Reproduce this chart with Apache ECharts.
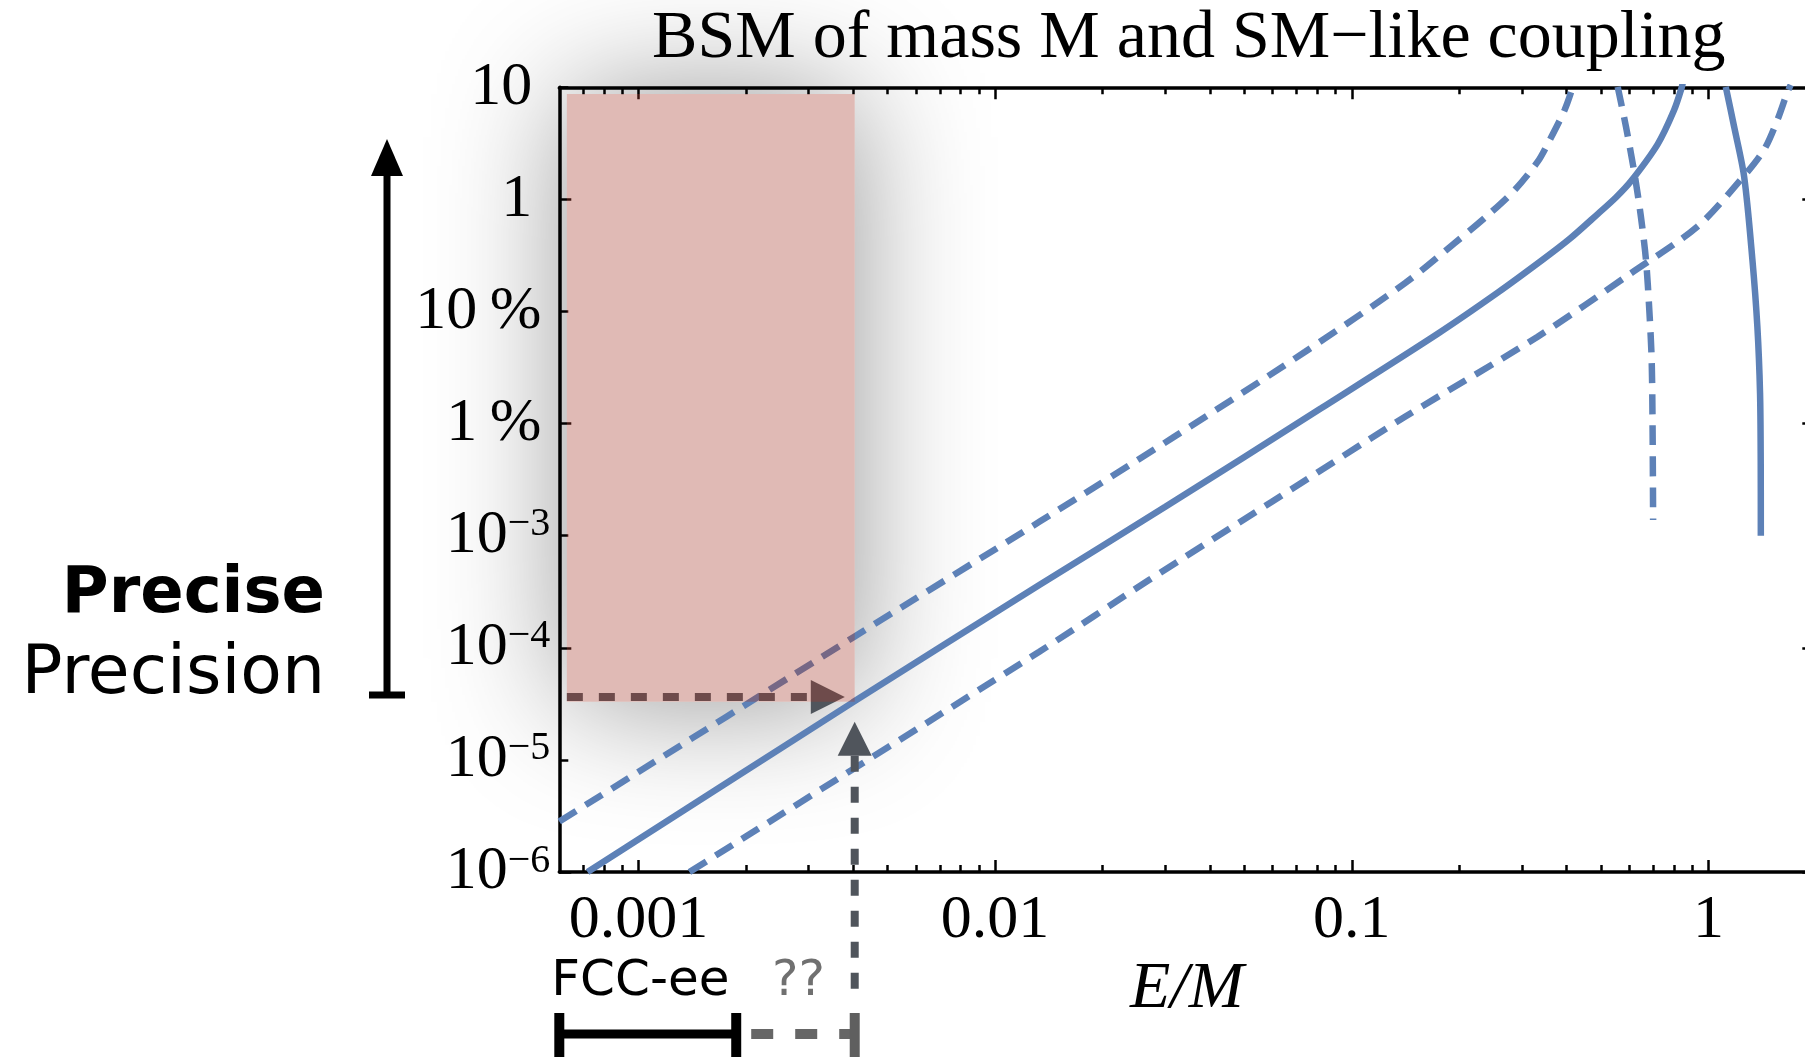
<!DOCTYPE html>
<html>
<head>
<meta charset="utf-8">
<script src="https://cdn.jsdelivr.net/npm/echarts@6.0.0/dist/echarts.min.js"></script>
<style>
html,body{margin:0;padding:0;background:#ffffff;}
#chart{width:1805px;height:1057px;}
</style>
</head>
<body>
<div id="chart"></div>
<script>
// ---------------- data ----------------
const xMajorTicks = [0.001, 0.01, 0.1, 1];
const xMajorLabels = ['0.001', '0.01', '0.1', '1'];
const xMinorTicks = [0.0007, 0.0008, 0.0009,
  0.002, 0.003, 0.004, 0.005, 0.006, 0.007, 0.008, 0.009,
  0.02, 0.03, 0.04, 0.05, 0.06, 0.07, 0.08, 0.09,
  0.2, 0.3, 0.4, 0.5, 0.6, 0.7, 0.8, 0.9];
const yTicks = [1e-6, 1e-5, 1e-4, 1e-3, 1e-2, 1e-1, 1, 10];
const yMajorTicks = [1e-6, 1e-4, 1e-2, 1];
const yMinorTicks = [1e-5, 1e-3, 1e-1, 10];
const yTickLabels = ['10^\u22126', '10^\u22125', '10^\u22124', '10^\u22123', '1\u2009%', '10\u2009%', '1', '10'];

// central curve (solid) and two companions (dashed)
const solidMain = [
  [7.2e-4, 1.0e-6], [3.99e-3, 3.26e-5], [1.33e-2, 3.63e-4], [3.0e-2, 1.81e-3],
  [8.2e-2, 1.37e-2], [0.175, 0.064], [0.257, 0.148], [0.343, 0.29], [0.41, 0.45],
  [0.489, 0.74], [0.55, 1.04], [0.606, 1.45], [0.72, 3.1], [0.80, 6.2], [0.84, 9.8], [0.852, 12]
];
const upperDashed = [
  [6.0e-4, 2.82e-6], [4.03e-3, 1.256e-4], [1.33e-2, 1.33e-3], [3.13e-2, 7.39e-3],
  [7.40e-2, 4.38e-2], [0.141, 0.179], [0.194, 0.406], [0.241, 0.726],
  [0.286, 1.21], [0.332, 2.17], [0.355, 3.17], [0.395, 6.27], [0.4165, 10.1], [0.42, 11.5]
];
const lowerDashed = [
  [1.39e-3, 1.0e-6], [1.33e-2, 9.23e-5], [2.70e-2, 4.02e-4], [5.97e-2, 2.01e-3],
  [0.141, 1.15e-2], [0.332, 5.96e-2], [0.606, 0.219], [0.93, 0.571],
  [1.23, 1.49], [1.43, 2.76], [1.56, 5.1], [1.66, 8.84], [1.70, 10.5]
];
// resonance-like near-vertical curves
const solidVertical = [
  [1.118, 10.1], [1.180, 4.45], [1.259, 1.59], [1.328, 0.288],
  [1.371, 0.0732], [1.395, 0.0186], [1.401, 0.0047], [1.402, 0.001]
];
const dashedVertical = [
  [0.5565, 10.1], [0.587, 4.45], [0.620, 1.71], [0.6465, 0.70], [0.668, 0.288],
  [0.6825, 0.103], [0.693, 0.0369], [0.697, 0.0094], [0.6995, 0.00138]
];

// annotation values
const targetRegionX = [6.3e-4, 4.04e-3];
const targetRegionY = [3.3e-5, 8.7];
const precisionArrow = [6.3e-4, 3.64e-5, 3.79e-3, 3.64e-5];   // x0, y0, x1(tip), y1
const reachArrow = [4.04e-3, 2.19e-5];                      // x, tip y
const fccRange = [6.0e-4, 1.88e-3];
const unknownRange = [1.88e-3, 4.04e-3];

// ---------------- layout / style ----------------
const X_MIN = 0.0006, X_MAX = 1.98, Y_MIN = 1e-6, Y_MAX = 10;
const GRID = { left: 559.3, top: 87.3, width: 1255.0, height: 784.7 };
const BLUE = '#5d81b7';
const ARROW = '#50555c';
const SERIF = "'Liberation Serif','Times New Roman',serif";
const SANS = "'DejaVu Sans','Liberation Sans',sans-serif";
const DASH = [20, 11];

const chart = echarts.init(document.getElementById('chart'), null, { renderer: 'canvas' });

function xFmt(v) {
  const i = xMajorTicks.findIndex(t => Math.abs(Math.log10(t) - Math.log10(v)) < 1e-6);
  return i < 0 ? '' : xMajorLabels[i];
}
function yFmt(v) {
  const lv = Math.log10(v);
  const i = yTicks.findIndex(t => Math.abs(Math.log10(t) - lv) < 1e-6);
  if (i < 0) return '';
  const s = yTickLabels[i];
  if (s.indexOf('^') >= 0) { const p = s.split('^'); return '{b|' + p[0] + '}{s|' + p[1] + '}'; }
  if (s.indexOf('%') >= 0) return '{p|' + s + '}';
  return '{n|' + s + '}';
}

const lineAx = { show: true, onZero: false, lineStyle: { color: '#000', width: 3.5 } };
function xAxisDef(pos, ticks, len, showLine, withLabels) {
  return {
    type: 'log', position: pos, min: X_MIN, max: X_MAX, logBase: 10,
    axisLine: showLine ? lineAx : { show: false },
    axisTick: { show: true, inside: true, length: len, customValues: ticks, lineStyle: { color: '#000', width: 2.5 } },
    axisLabel: withLabels ? {
      show: true, customValues: xMajorTicks, formatter: xFmt, margin: 18,
      fontFamily: SERIF, fontSize: 62, color: '#000'
    } : { show: false },
    splitLine: { show: false },
    name: withLabels ? 'E/M' : '',
    nameLocation: 'middle', nameGap: 72,
    nameTextStyle: { fontFamily: SERIF, fontStyle: 'italic', fontSize: 66, color: '#000' }
  };
}
function yAxisDef(pos, ticks, len, showLine, withLabels) {
  return {
    type: 'log', position: pos, min: Y_MIN, max: Y_MAX, logBase: 10,
    axisLine: showLine ? lineAx : { show: false },
    axisTick: { show: true, inside: true, length: len, customValues: ticks, lineStyle: { color: '#000', width: 2.5 } },
    axisLabel: withLabels ? {
      show: true, customValues: yTicks, formatter: yFmt, margin: 9, color: '#000',
      rich: {
        b: { fontFamily: SERIF, fontSize: 62, lineHeight: 62, color: '#000' },
        s: { fontFamily: SERIF, fontSize: 40, lineHeight: 28, verticalAlign: 'top', color: '#000' },
        p: { fontFamily: SERIF, fontSize: 62, lineHeight: 62, padding: [0, 9, 0, 0], color: '#000' },
        n: { fontFamily: SERIF, fontSize: 62, lineHeight: 62, padding: [0, 18, 0, 0], color: '#000' }
      }
    } : { show: false },
    splitLine: { show: false }
  };
}

function lineSeries(name, data, dashed) {
  return {
    type: 'line', name: name, data: data, xAxisIndex: 0, yAxisIndex: 0,
    showSymbol: false, symbol: 'none', smooth: 0.3, clip: true, z: 3, silent: true,
    lineStyle: { color: BLUE, width: 6.5, type: dashed ? DASH : 'solid', cap: 'butt' },
    emphasis: { disabled: true }
  };
}

function rectRender(fill, shadow) {
  return function (params, api) {
    const a = api.coord([api.value(0), api.value(3)]);
    const b = api.coord([api.value(2), api.value(1)]);
    const style = { fill: fill };
    if (shadow) { style.shadowBlur = 130; style.shadowColor = 'rgba(0,0,0,0.42)'; }
    return { type: 'rect', shape: { x: a[0], y: a[1], width: b[0] - a[0], height: b[1] - a[1] }, style: style };
  };
}
const regionData = [[targetRegionX[0], targetRegionY[0], targetRegionX[1], targetRegionY[1]]];

const option = {
  animation: false,
  backgroundColor: '#ffffff',
  grid: { left: GRID.left, top: GRID.top, width: GRID.width, height: GRID.height, containLabel: false, outerBoundsMode: 'none' },
  xAxis: [
    xAxisDef('bottom', xMajorTicks, 12, true, true),
    xAxisDef('bottom', xMinorTicks, 7, false, false),
    xAxisDef('top', xMajorTicks, 12, true, false),
    xAxisDef('top', xMinorTicks, 7, false, false)
  ],
  yAxis: [
    yAxisDef('left', yMajorTicks, 12, true, true),
    yAxisDef('left', yMinorTicks, 9, false, false),
    yAxisDef('right', yMajorTicks, 12, true, false),
    yAxisDef('right', yMinorTicks, 9, false, false)
  ],
  graphic: [
    { type: 'text', x: GRID.left + GRID.width / 2 + 2, y: 39, z: 100,
      style: { text: 'BSM of mass M and SM\u2212like coupling', font: '68px ' + SERIF, fill: '#000', align: 'center', verticalAlign: 'middle' } },
    { type: 'text', x: 325, y: 595, z: 100,
      style: { text: 'Precise', font: 'bold 64px ' + SANS, fill: '#000', align: 'right', verticalAlign: 'middle' } },
    { type: 'text', x: 325, y: 675, z: 100,
      style: { text: 'Precision', font: '68px ' + SANS, fill: '#000', align: 'right', verticalAlign: 'middle' } },
    { type: 'line', z: 100, shape: { x1: 387, y1: 695, x2: 387, y2: 168 }, style: { stroke: '#000', lineWidth: 7 } },
    { type: 'polygon', z: 100, shape: { points: [[387, 139], [371, 176], [403, 176]] }, style: { fill: '#000' } },
    { type: 'line', z: 100, shape: { x1: 369, y1: 695, x2: 405, y2: 695 }, style: { stroke: '#000', lineWidth: 7 } }
  ],
  series: [
    { type: 'custom', name: 'glow', coordinateSystem: 'cartesian2d', z: -1, silent: true, clip: false,
      data: regionData, encode: { x: [0, 2], y: [1, 3] }, renderItem: rectRender('#ffffff', true) },
    lineSeries('upper', upperDashed, true),
    lineSeries('main', solidMain, false),
    lineSeries('lower', lowerDashed, true),
    lineSeries('dashedVertical', dashedVertical, true),
    lineSeries('solidVertical', solidVertical, false),
    { type: 'custom', name: 'arrows', coordinateSystem: 'cartesian2d', z: 4, silent: true, clip: false,
      data: [precisionArrow, [reachArrow[0], reachArrow[1], reachArrow[0], reachArrow[1]]],
      encode: { x: [0, 2], y: [1, 3] },
      renderItem: function (params, api) {
        const head = 34, half = 17;
        const cs = params.coordSys;
        if (params.dataIndex === 0) {
          const s = api.coord([api.value(0), api.value(1)]);
          const t = api.coord([api.value(2), api.value(3)]);
          return { type: 'group', children: [
            { type: 'line', shape: { x1: s[0], y1: t[1], x2: t[0] - head, y2: t[1] }, style: { stroke: ARROW, lineWidth: 8, lineDash: [16, 16] } },
            { type: 'polygon', shape: { points: [[t[0], t[1]], [t[0] - head, t[1] - half], [t[0] - head, t[1] + half]] }, style: { fill: ARROW } }
          ] };
        }
        const t = api.coord([api.value(0), api.value(1)]);
        const bottom = cs.y + cs.height + 128;
        return { type: 'group', children: [
          { type: 'line', shape: { x1: t[0], y1: t[1] + head, x2: t[0], y2: bottom }, style: { stroke: ARROW, lineWidth: 8, lineDash: [16, 15] } },
          { type: 'polygon', shape: { points: [[t[0], t[1]], [t[0] - half, t[1] + head], [t[0] + half, t[1] + head]] }, style: { fill: ARROW } }
        ] };
      } },
    { type: 'custom', name: 'region', coordinateSystem: 'cartesian2d', z: 5, silent: true, clip: false,
      data: regionData, encode: { x: [0, 2], y: [1, 3] }, renderItem: rectRender('rgba(166,58,44,0.35)', false) },
    { type: 'custom', name: 'reach', coordinateSystem: 'cartesian2d', z: 5, silent: true, clip: false,
      data: [[fccRange[0], Y_MIN, fccRange[1], unknownRange[1]]],
      encode: { x: [0, 2], y: [1, 1] },
      renderItem: function (params, api) {
        const cs = params.coordSys;
        const base = cs.y + cs.height;
        const xa = api.coord([api.value(0), Y_MIN])[0];
        const xb = api.coord([api.value(2), Y_MIN])[0];
        const xc = api.coord([api.value(3), Y_MIN])[0];
        const barY = base + 162, capTop = base + 141, capH = 60;
        return { type: 'group', children: [
          { type: 'line', shape: { x1: xa, y1: barY, x2: xb, y2: barY }, style: { stroke: '#000', lineWidth: 9 } },
          { type: 'rect', shape: { x: xa - 5, y: capTop, width: 10, height: capH }, style: { fill: '#000' } },
          { type: 'rect', shape: { x: xb - 5, y: capTop, width: 10, height: capH }, style: { fill: '#000' } },
          { type: 'line', shape: { x1: xb + 15, y1: barY, x2: xc, y2: barY }, style: { stroke: '#666666', lineWidth: 10, lineDash: [22, 22] } },
          { type: 'rect', shape: { x: xc - 5, y: capTop, width: 10, height: capH }, style: { fill: '#5f5f5f' } },
          { type: 'text', x: xa - 8, y: base + 110, style: { text: 'FCC-ee', font: '50px ' + SANS, fill: '#000', align: 'left', verticalAlign: 'middle' } },
          { type: 'text', x: (xb + xc) / 2 + 3, y: base + 110, style: { text: '??', font: '50px ' + SANS, fill: '#707070', align: 'center', verticalAlign: 'middle' } }
        ] };
      } }
  ]
};
chart.setOption(option);
</script>
</body>
</html>
